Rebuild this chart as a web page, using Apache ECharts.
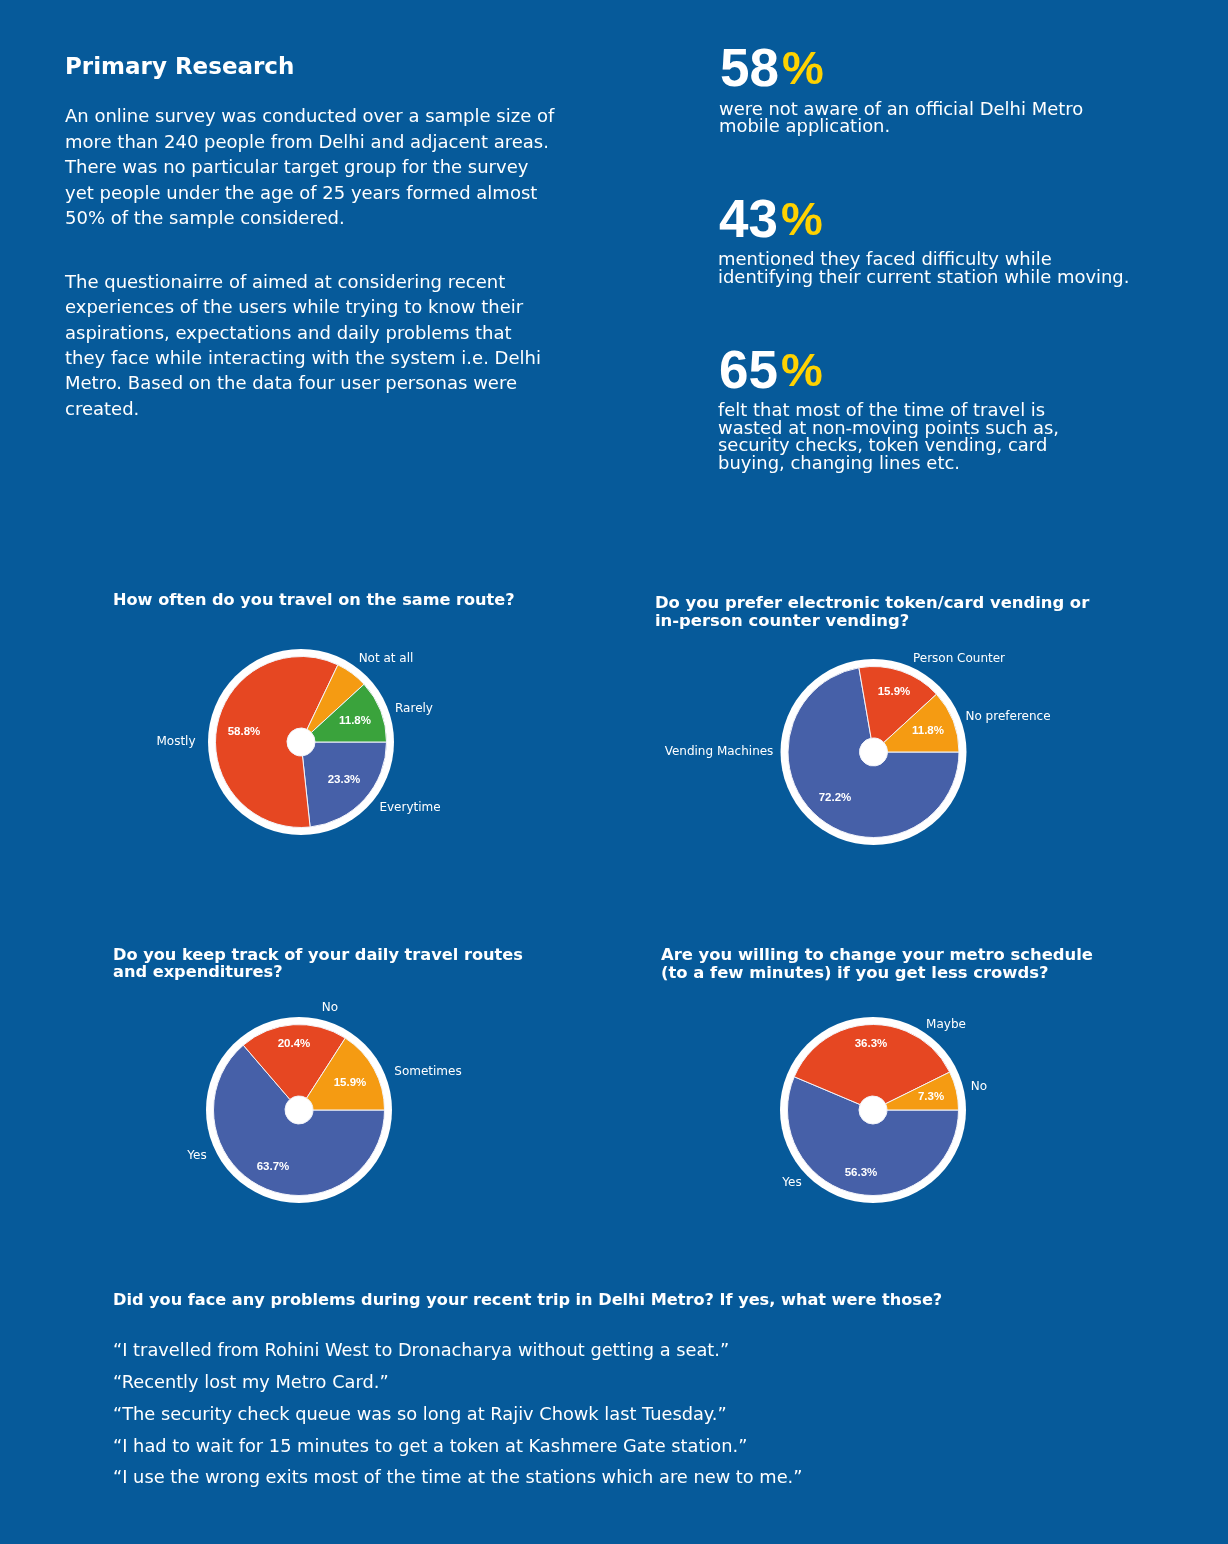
<!DOCTYPE html>
<html><head><meta charset="utf-8">
<style>html,body{margin:0;padding:0;background:#065a9a}#c{width:1228px;height:1544px}</style>
<script src="https://cdn.jsdelivr.net/npm/echarts@6/dist/echarts.min.js"></script>
</head><body><div id="c"></div>
<script>
const routeNames = ['Everytime','Mostly','Not at all','Rarely'];
const routeValues = [23.3,58.8,6.1,11.8];
const vendingNames = ['Vending Machines','Person Counter','No preference'];
const vendingValues = [72.2,15.9,11.8];
const trackNames = ['Yes','No','Sometimes'];
const trackValues = [63.7,20.4,15.9];
const scheduleNames = ['Yes','Maybe','No'];
const scheduleValues = [56.3,36.3,7.3];
const BLUE='#4660a8',RED='#e64722',ORANGE='#f59b12',GREEN='#3aa33c';
const routeColors=[BLUE,RED,ORANGE,GREEN];
const threeColors=[BLUE,RED,ORANGE];

// label placement only (page pixels), kept apart from the data
const routeNamePos=[[410,808],[176,742],[386,659],[414,709]];
const routePctPos=[[344,780],[244,732],null,[355,721]];
const vendingNamePos=[[719,752],[959,659],[1008,717]];
const vendingPctPos=[[835,798],[894,692],[928,731]];
const trackNamePos=[[197,1156],[330,1008],[428,1072]];
const trackPctPos=[[273,1167],[294,1044],[350,1083]];
const scheduleNamePos=[[792,1183],[946,1025],[979,1087]];
const schedulePctPos=[[861,1173],[871,1044],[931,1097]];

const FONT='"DejaVu Sans"';
const BG='#065a9a';
const chart=echarts.init(document.getElementById('c'),null,{renderer:'canvas'});

function place(pos){
  return p=>{const q=pos[p.dataIndex];return q?{x:q[0],y:q[1],align:'center',verticalAlign:'middle'}:{};};
}
function pie(names,values,colors,cx,cy,namePos,pctPos){
  const d=names.map((n,i)=>({name:n,value:values[i],itemStyle:{color:colors[i]}}));
  const center=[cx,cy];
  return [
    {type:'pie',silent:true,center,radius:[0,93],z:1,label:{show:false},labelLine:{show:false},animation:false,
     data:[{value:1,itemStyle:{color:'#fff'}}]},
    {type:'pie',center,radius:[14,85.5],startAngle:0,clockwise:true,z:2,animation:false,silent:true,
     itemStyle:{borderColor:'#f2f4fa',borderWidth:1},
     label:{show:true,position:'outside',color:'#fff',fontFamily:FONT,fontSize:12,formatter:'{b}'},
     labelLine:{show:false},labelLayout:place(namePos),data:d},
    {type:'pie',center,radius:[14,85.5],startAngle:0,clockwise:true,z:3,animation:false,silent:true,
     label:{show:true,position:'inside',color:'#fff',fontFamily:'"Liberation Sans"',fontWeight:'bold',fontSize:11.5,
       formatter:p=>p.value<7?'':p.value.toFixed(1)+'%'},
     labelLine:{show:false},labelLayout:place(pctPos),
     data:names.map((n,i)=>({name:n,value:values[i],itemStyle:{color:'transparent'}}))}
  ];
}
function txt(x,y,text,size,weight,lh){
  return {type:'text',x,y,silent:true,style:{text,fill:'#fff',font:(weight||'normal')+' '+size+'px '+FONT,lineHeight:lh,textVerticalAlign:'top'}};
}
function big(x,y,num){
  const f='"Liberation Sans"';
  return {type:'text',x,y,silent:true,style:{text:'{a|'+num+'}{b|%}',rich:{
    a:{fill:'#fff',font:'bold 53px '+f},b:{fill:'#ffd200',font:'bold 47px '+f,padding:[0,0,0,3]}}}};
}
const graphics=[
  txt(65,57,'Primary Research',23,'bold'),
  txt(65,105,'An online survey was conducted over a sample size of\nmore than 240 people from Delhi and adjacent areas.\nThere was no particular target group for the survey\nyet people under the age of 25 years formed almost\n50% of the sample considered.',18,'normal',25.4),
  txt(65,270.5,'The questionairre of aimed at considering recent\nexperiences of the users while trying to know their\naspirations, expectations and daily problems that\nthey face while interacting with the system i.e. Delhi\nMetro. Based on the data four user personas were\ncreated.',18,'normal',25.4),
  big(720,45,'58'),
  txt(719,101.5,'were not aware of an official Delhi Metro\nmobile application.',17.95,'normal',17.5),
  big(719,196,'43'),
  txt(718,252,'mentioned they faced difficulty while\nidentifying their current station while moving.',17.95,'normal',17.5),
  big(719,347,'65'),
  txt(718,403,'felt that most of the time of travel is\nwasted at non-moving points such as,\nsecurity checks, token vending, card\nbuying, changing lines etc.',17.95,'normal',17.5),
  txt(113,593,'How often do you travel on the same route?',16.15,'bold'),
  txt(655,595,'Do you prefer electronic token/card vending or\nin-person counter vending?',16.4,'bold',17.5),
  txt(113,947,'Do you keep track of your daily travel routes\nand expenditures?',16.2,'bold',17.5),
  txt(661,947,'Are you willing to change your metro schedule\n(to a few minutes) if you get less crowds?',16.4,'bold',17.5),
  txt(113,1293,'Did you face any problems during your recent trip in Delhi Metro? If yes, what were those?',16.15,'bold'),
  txt(113,1336,'“I travelled from Rohini West to Dronacharya without getting a seat.”\n“Recently lost my Metro Card.”\n“The security check queue was so long at Rajiv Chowk last Tuesday.”\n“I had to wait for 15 minutes to get a token at Kashmere Gate station.”\n“I use the wrong exits most of the time at the stations which are new to me.”',17.8,'normal',31.75)
];
chart.setOption({
  backgroundColor:BG,animation:false,
  graphic:{elements:graphics},
  series:[
    ...pie(routeNames,routeValues,routeColors,301,742,routeNamePos,routePctPos),
    ...pie(vendingNames,vendingValues,threeColors,873.5,752,vendingNamePos,vendingPctPos),
    ...pie(trackNames,trackValues,threeColors,299,1110,trackNamePos,trackPctPos),
    ...pie(scheduleNames,scheduleValues,threeColors,873,1110,scheduleNamePos,schedulePctPos)
  ]
});
</script></body></html>
